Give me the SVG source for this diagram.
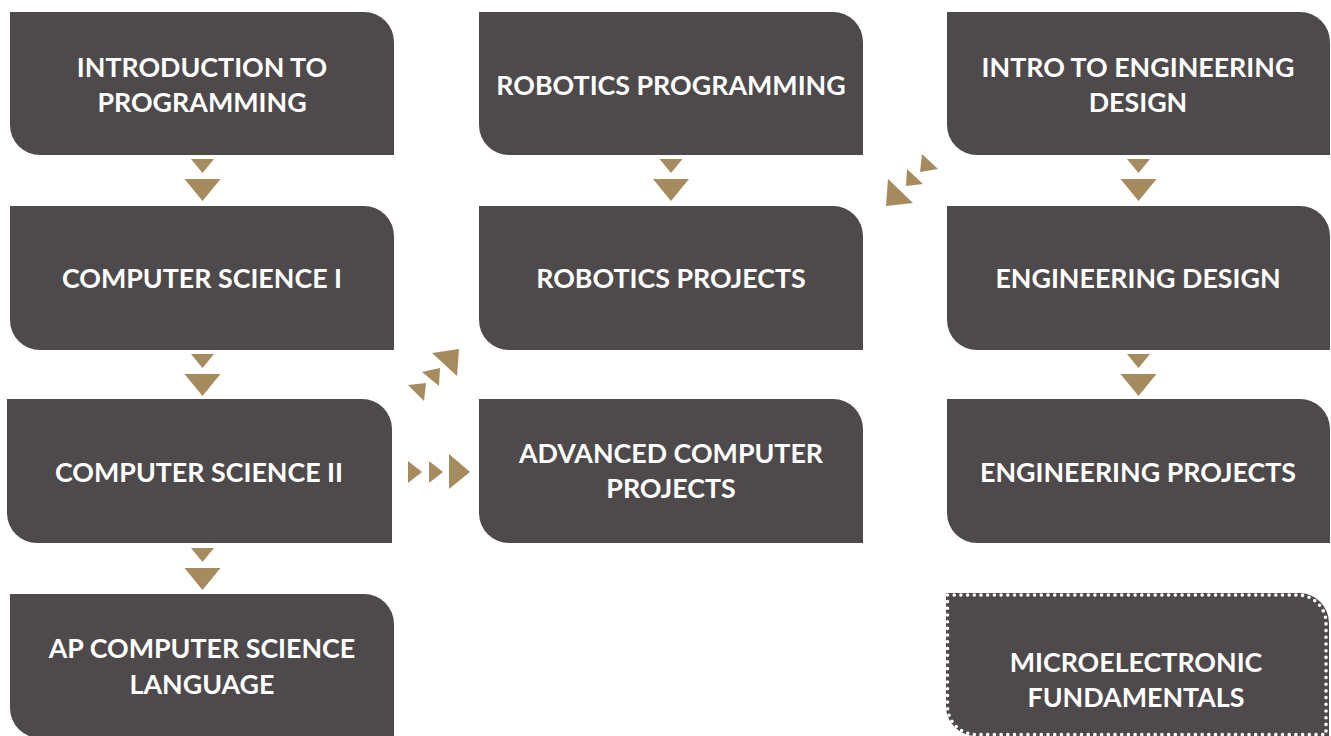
<svg xmlns="http://www.w3.org/2000/svg" width="1331" height="736" viewBox="0 0 1331 736">
<style>
.node{fill:#4e4a4b}
.t{fill:#ffffff;font-family:Lato,"Open Sans","Liberation Sans",sans-serif;font-weight:700;font-size:26.8px;text-anchor:middle}
.a{fill:#a58b5e}
.dots{fill:none;stroke:#ffffff;stroke-width:3.6;stroke-dasharray:0 6.7;stroke-linecap:round}
</style>
<defs>
<g id="dn">
<polygon points="-11.5,4 11.5,4 0,18"/>
<polygon points="-18,24 18,24 0,46"/>
</g>
</defs>
<rect width="1331" height="736" fill="#ffffff"/>

<g id="n-intro-prog">
<path class="node" d="M10,12 H364 A30,30 0 0 1 394,42 V155 H40 A30,30 0 0 1 10,125 Z"/>
<text class="t" x="202" y="77">INTRODUCTION TO</text>
<text class="t" x="202" y="112">PROGRAMMING</text>
</g>
<g id="n-cs1">
<path class="node" d="M10,206 H364 A30,30 0 0 1 394,236 V350 H40 A30,30 0 0 1 10,320 Z"/>
<text class="t" x="202" y="288">COMPUTER SCIENCE I</text>
</g>
<g id="n-cs2">
<path class="node" d="M7,399 H362 A30,30 0 0 1 392,429 V543 H37 A30,30 0 0 1 7,513 Z"/>
<text class="t" x="199" y="482">COMPUTER SCIENCE II</text>
</g>
<g id="n-apcs">
<path class="node" d="M10,594 H364 A30,30 0 0 1 394,624 V738 H40 A30,30 0 0 1 10,708 Z"/>
<text class="t" x="202" y="658">AP COMPUTER SCIENCE</text>
<text class="t" x="202" y="694">LANGUAGE</text>
</g>

<g id="n-rob-prog">
<path class="node" d="M479,12 H833 A30,30 0 0 1 863,42 V155 H509 A30,30 0 0 1 479,125 Z"/>
<text class="t" x="671" y="95">ROBOTICS PROGRAMMING</text>
</g>
<g id="n-rob-proj">
<path class="node" d="M479,206 H833 A30,30 0 0 1 863,236 V350 H509 A30,30 0 0 1 479,320 Z"/>
<text class="t" x="671" y="288">ROBOTICS PROJECTS</text>
</g>
<g id="n-adv-comp">
<path class="node" d="M479,399 H833 A30,30 0 0 1 863,429 V543 H509 A30,30 0 0 1 479,513 Z"/>
<text class="t" x="671" y="463">ADVANCED COMPUTER</text>
<text class="t" x="671" y="498">PROJECTS</text>
</g>

<g id="n-intro-eng">
<path class="node" d="M947,12 H1300 A30,30 0 0 1 1330,42 V155 H977 A30,30 0 0 1 947,125 Z"/>
<text class="t" x="1138" y="77">INTRO TO ENGINEERING</text>
<text class="t" x="1138" y="112">DESIGN</text>
</g>
<g id="n-eng-design">
<path class="node" d="M947,206 H1300 A30,30 0 0 1 1330,236 V350 H977 A30,30 0 0 1 947,320 Z"/>
<text class="t" x="1138" y="288">ENGINEERING DESIGN</text>
</g>
<g id="n-eng-proj">
<path class="node" d="M947,399 H1300 A30,30 0 0 1 1330,429 V543 H977 A30,30 0 0 1 947,513 Z"/>
<text class="t" x="1138" y="482">ENGINEERING PROJECTS</text>
</g>
<g id="n-micro">
<path class="node" d="M946,593 H1299 A30,30 0 0 1 1329,623 V736 H976 A30,30 0 0 1 946,706 Z"/>
<path class="dots" d="M947.5,595 H1298 A28,28 0 0 1 1326,623 V734.5 H976 A28.5,28.5 0 0 1 947.5,706 Z"/>
<text class="t" x="1136" y="672">MICROELECTRONIC</text>
<text class="t" x="1136" y="707">FUNDAMENTALS</text>
</g>

<g id="connectors" class="a">
<use href="#dn" x="202.5" y="155"/>
<use href="#dn" x="202.5" y="350"/>
<use href="#dn" x="202.5" y="544"/>
<use href="#dn" x="671" y="155"/>
<use href="#dn" x="1138.5" y="155"/>
<use href="#dn" x="1138.5" y="350"/>
<polygon points="408,461 408,483 422,472"/>
<polygon points="429,461 429,483 443,472"/>
<polygon points="449,454 449,489 470,472"/>
<polygon points="408,385 426,383 424,401"/>
<polygon points="422,372 440,368 439,386"/>
<polygon points="432,353 459,349 457,376"/>
<polygon points="920,172 922,154 938,169"/>
<polygon points="906,186 907,169 923,184"/>
<polygon points="886,206 888,179 913,203"/>
</g>
</svg>
